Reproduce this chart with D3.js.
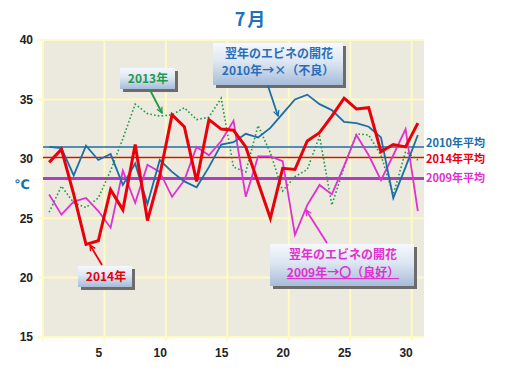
<!DOCTYPE html>
<html><head><meta charset="utf-8">
<script src="https://cdn.jsdelivr.net/npm/d3@7"></script>
<style>
html,body{margin:0;padding:0;background:#fff;}
svg{display:block;}
</style>
</head><body>
<svg id="chart" width="514" height="373"></svg>
<script>
const days = d3.range(1, 32);
const s2014 = [29.7,30.8,27.0,22.8,23.1,27.4,25.7,31.2,24.8,28.6,33.7,32.7,28.1,33.3,32.5,32.4,31.0,28.0,25.0,29.2,29.1,31.5,32.2,33.6,35.1,34.2,34.3,30.6,31.2,31.0,33.0];
const s2010 = [31.0,30.9,28.6,31.1,29.9,30.4,27.8,29.6,26.2,29.9,28.9,28.1,27.6,29.3,31.2,31.4,32.1,31.8,32.6,33.8,35.0,35.4,34.6,34.1,33.1,33.0,32.7,31.8,26.7,29.3,32.0];
const s2009 = [27.0,25.3,26.4,26.7,25.6,24.2,29.0,26.3,29.5,28.9,26.8,28.2,31.0,30.3,31.5,33.2,26.8,30.2,30.2,29.8,23.6,26.1,27.8,27.0,29.4,32.0,30.3,28.2,30.3,32.5,25.6];
const s2013 = [25.5,27.7,26.3,25.9,26.7,29.0,31.7,34.6,33.8,33.6,33.7,34.3,33.3,33.5,35.1,29.3,28.9,32.8,30.5,27.3,28.5,29.1,31.9,26.1,29.3,32.1,32.0,30.3,27.0,30.6,29.9];
const avgNames = ["2010年平均","2014年平均","2009年平均"];
const avgValues = [31.0, 30.1, 28.35];
const yTicks = [15,20,25,30,35,40];
const xTicks = [5,10,15,20,25,30];

const svg = d3.select("#chart");
const x = d3.scaleLinear().domain([0.5, 31.5]).range([43, 424]);
const y = d3.scaleLinear().domain([15, 40]).range([337, 40]);

const defs = svg.append("defs");
const grad = defs.append("linearGradient").attr("id","boxg").attr("x1",0).attr("y1",0).attr("x2",0).attr("y2",1);
grad.append("stop").attr("offset","0%").attr("stop-color","#f6f8fc");
grad.append("stop").attr("offset","45%").attr("stop-color","#dde6f2");
grad.append("stop").attr("offset","100%").attr("stop-color","#a6bcd9");
function marker(id, color){
  defs.append("marker").attr("id",id).attr("viewBox","0 0 10 10").attr("refX",9).attr("refY",5)
    .attr("markerWidth",7).attr("markerHeight",7).attr("orient","auto").attr("markerUnits","userSpaceOnUse")
    .append("path").attr("d","M1,1 L9,5 L1,9").attr("fill","none").attr("stroke",color).attr("stroke-width",1.8);
}
marker("mg","#1e9a4c"); marker("mb","#1b6ea8"); marker("mr","#e8000a"); marker("mm","#e030d0");

// title
svg.append("text").attr("x",251).attr("y",26).attr("text-anchor","middle")
  .attr("font-family","'Noto Sans CJK JP','DejaVu Sans',sans-serif").attr("font-weight","bold")
  .attr("font-size",18).attr("fill","#1f6fbf").attr("letter-spacing",2).text("7月");

// plot background
svg.append("rect").attr("x",43).attr("y",40).attr("width",381).attr("height",297).attr("fill","#ece9df");

// gridlines
const gridColor = "#fdfac2";
svg.append("g").selectAll("line").data(yTicks).join("line")
  .attr("x1",38).attr("x2",424).attr("y1",d=>y(d)).attr("y2",d=>y(d))
  .attr("stroke",gridColor).attr("stroke-width",2);
svg.append("g").selectAll("line").data(xTicks.map(d=>d+0.5).concat([0.5])).join("line")
  .attr("x1",d=>x(d)).attr("x2",d=>x(d)).attr("y1",40).attr("y2",341)
  .attr("stroke",gridColor).attr("stroke-width",2);

// axes
const yAxis = d3.axisLeft(y).tickValues(yTicks).tickSize(0).tickPadding(10);
const gy = svg.append("g").attr("transform","translate(43,0)").call(yAxis);
const xAxis = d3.axisBottom(x).tickValues(xTicks).tickSize(0).tickPadding(11);
const gx = svg.append("g").attr("transform","translate(0,337)").call(xAxis);
[gy,gx].forEach(g=>{
  g.select(".domain").remove();
  g.selectAll("text").attr("font-family","'Liberation Sans',Arial,sans-serif").attr("font-size",12)
    .attr("font-weight","bold").attr("fill","#222");
});
svg.append("text").attr("x",22).attr("y",189).attr("text-anchor","middle")
  .attr("font-family","'DejaVu Sans',sans-serif").attr("font-size",13).attr("font-weight","bold")
  .attr("fill","#1b6ea8").text("℃");

// average lines
const avgColors = ["#1b6ea8","#d0101a","#b03cc0"];
const avgWidths = [1.5,1.5,3];
svg.append("g").selectAll("line").data(avgValues).join("line")
  .attr("x1",43).attr("x2",424).attr("y1",d=>y(d)).attr("y2",d=>y(d))
  .attr("stroke",(d,i)=>avgColors[i]).attr("stroke-width",(d,i)=>avgWidths[i]);

// series
const line = d3.line().x((d,i)=>x(days[i])).y(d=>y(d));
svg.append("path").datum(s2013).attr("d",line).attr("fill","none").attr("stroke","#1e9a4c")
  .attr("stroke-width",1.6).attr("stroke-dasharray","1.6,2.2");
svg.append("path").datum(s2009).attr("d",line).attr("fill","none").attr("stroke","#e030d0").attr("stroke-width",1.8);
svg.append("path").datum(s2010).attr("d",line).attr("fill","none").attr("stroke","#1b6ea8").attr("stroke-width",1.8);
svg.append("path").datum(s2014).attr("d",line).attr("fill","none").attr("stroke","#e8000a").attr("stroke-width",3)
  .attr("stroke-linejoin","miter");

// average labels
const avgLabelY = [147, 162.5, 181.5];
svg.append("g").selectAll("text").data(avgNames).join("text")
  .attr("x",426).attr("y",(d,i)=>avgLabelY[i])
  .attr("font-family","'Noto Sans CJK JP',sans-serif").attr("font-weight","bold").attr("font-size",11)
  .attr("fill",(d,i)=>["#1b6ea8","#e8000a","#e030d0"][i]).text(d=>d);

// annotation boxes
function box(x0,y0,w,h){
  svg.append("rect").attr("x",x0+3).attr("y",y0+3).attr("width",w).attr("height",h).attr("fill","#6c6c6c");
  svg.append("rect").attr("x",x0).attr("y",y0).attr("width",w).attr("height",h).attr("fill","url(#boxg)");
}
function txt(t,xx,yy,color,underline){
  const el = svg.append("text").attr("x",xx).attr("y",yy).attr("text-anchor","middle")
    .attr("font-family","'Noto Sans CJK JP',sans-serif").attr("font-weight","bold").attr("font-size",12)
    .attr("fill",color).text(t);
  if(underline) el.attr("text-decoration","underline");
}
function arrow(x1,y1,x2,y2,color,m){
  svg.append("line").attr("x1",x1).attr("y1",y1).attr("x2",x2).attr("y2",y2)
    .attr("stroke",color).attr("stroke-width",1.8).attr("marker-end",`url(#${m})`);
}
// 2013
box(120,68,55,21);
txt("2013年",148,83,"#1e9a4c");
arrow(150,90,162,113,"#1e9a4c","mg");
// 2010
box(213,43,130,42);
txt("翌年のエビネの開花",279,58,"#2a6ebb");
txt("2010年→×（不良）",278,75,"#2a6ebb");
arrow(268,86,278,116,"#1b6ea8","mb");
// 2014
box(78,266,54,21);
txt("2014年",106,281,"#e8000a");
arrow(102,265,90,245,"#e8000a","mr");
// 2009
box(270,244,144,42);
txt("翌年のエビネの開花",343,259,"#e030d0");
txt("2009年→〇（良好）",343,277,"#e030d0",true);
arrow(327,243,306,210,"#e030d0","mm");
</script>
</body></html>
